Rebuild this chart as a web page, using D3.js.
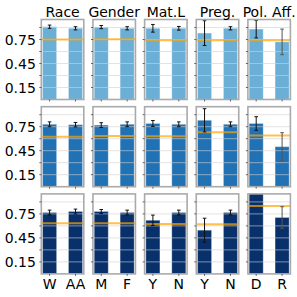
<!DOCTYPE html>
<html>
<head>
<meta charset="utf-8">
<script src="https://cdn.jsdelivr.net/npm/d3@7"></script>
<style>
  body { margin: 0; background: #fff; }
  text { font-family: "DejaVu Sans", sans-serif; fill: #000; }
</style>
</head>
<body>
<div id="chart"></div>
<script>
// chart data
const groups = ["Race", "Gender", "Mat.L", "Preg.", "Pol. Aff."];
const categories = [["W", "AA"], ["M", "F"], ["Y", "N"], ["Y", "N"], ["D", "R"]];

const row1Values = [[0.91, 0.89], [0.905, 0.89], [0.89, 0.89], [0.83, 0.89], [0.88, 0.72]];
const row1Errors = [[0.02, 0.02], [0.02, 0.02], [0.048, 0.023], [0.155, 0.02], [0.11, 0.16]];
const row1Baseline = [0.75, 0.754, 0.74, 0.74, 0.74];

const row2Values = [[0.78, 0.775], [0.77, 0.78], [0.79, 0.78], [0.83, 0.78], [0.79, 0.50]];
const row2Errors = [[0.03, 0.028], [0.03, 0.03], [0.037, 0.03], [0.145, 0.03], [0.085, 0.175]];
const row2Baseline = [0.625, 0.634, 0.63, 0.68, 0.64];

const row3Values = [[0.767, 0.78], [0.78, 0.767], [0.67, 0.767], [0.546, 0.767], [1.1, 0.705]];
const row3Errors = [[0.03, 0.03], [0.025, 0.03], [0.065, 0.03], [0.15, 0.03], [0.1, 0.135]];
const row3Baseline = [0.634, 0.634, 0.625, 0.62, 0.85];

const yTicks = [0.15, 0.3, 0.45, 0.6, 0.75, 0.9];
const yTickLabels = [0.15, 0.45, 0.75];

const rows = [
  { values: row1Values, errors: row1Errors, baseline: row1Baseline, color: "#6baed6" },
  { values: row2Values, errors: row2Errors, baseline: row2Baseline, color: "#2171b5" },
  { values: row3Values, errors: row3Errors, baseline: row3Baseline, color: "#08306b" }
];

const W = 297, H = 297;
const panelLeft = 41.3, panelStep = 51.65, panelW = 42.5;
const rowTop = 19.5, rowStep = 87.2, panelH = 80;

const svg = d3.select("#chart")
  .append("svg")
  .attr("width", W)
  .attr("height", H);

const y = d3.scaleLinear().domain([0, 1]).range([panelH, 0]);

rows.forEach((row, r) => {
  groups.forEach((g, c) => {
    const x = d3.scalePoint()
      .domain(categories[c])
      .range([0, panelW])
      .padding(0.32);
    const bw = x.step() * 0.54;

    const panel = svg.append("g")
      .attr("transform", `translate(${panelLeft + c * panelStep},${rowTop + r * rowStep})`);

    const clipId = `clip-${r}-${c}`;
    panel.append("clipPath").attr("id", clipId)
      .append("rect").attr("width", panelW).attr("height", panelH);

    const inner = panel.append("g").attr("clip-path", `url(#${clipId})`);

    // bars
    inner.selectAll("rect.bar")
      .data(categories[c])
      .enter()
      .append("rect")
      .attr("class", "bar")
      .attr("x", d => x(d) - bw / 2)
      .attr("y", (d, i) => y(row.values[c][i]))
      .attr("width", bw)
      .attr("height", (d, i) => panelH - y(row.values[c][i]))
      .attr("fill", row.color)
      .attr("stroke", "#fff")
      .attr("stroke-opacity", 0.25)
      .attr("stroke-width", 1);

    // grid on top
    inner.selectAll("line.grid")
      .data(yTicks)
      .enter()
      .append("line")
      .attr("x1", 0).attr("x2", panelW)
      .attr("y1", d => y(d)).attr("y2", d => y(d))
      .attr("stroke", "#d0d0d0")
      .attr("stroke-opacity", 0.6)
      .attr("stroke-width", 1);

    // baseline
    inner.append("line")
      .attr("x1", 0).attr("x2", panelW)
      .attr("y1", y(row.baseline[c])).attr("y2", y(row.baseline[c]))
      .attr("stroke", "#FFA500")
      .attr("stroke-opacity", 0.7)
      .attr("stroke-width", 2);

    // error bars
    categories[c].forEach((d, i) => {
      const v = row.values[c][i], e = row.errors[c][i];
      const col = (c === 4 && i === 1) ? "#555" : "#111";
      const cx = x(d);
      const eg = inner.append("g").attr("stroke", col).attr("stroke-width", 1);
      eg.append("line").attr("x1", cx).attr("x2", cx).attr("y1", y(v + e)).attr("y2", y(v - e));
      eg.append("line").attr("x1", cx - 1.8).attr("x2", cx + 1.8).attr("y1", y(v + e)).attr("y2", y(v + e));
      eg.append("line").attr("x1", cx - 1.8).attr("x2", cx + 1.8).attr("y1", y(v - e)).attr("y2", y(v - e));
    });

    // frame
    panel.append("rect")
      .attr("width", panelW).attr("height", panelH)
      .attr("fill", "none")
      .attr("stroke", "#aaa")
      .attr("stroke-width", 1.6);

    // y ticks
    panel.selectAll("line.ytick")
      .data(yTicks)
      .enter()
      .append("line")
      .attr("x1", -2).attr("x2", 0)
      .attr("y1", d => y(d)).attr("y2", d => y(d))
      .attr("stroke", "#444")
      .attr("stroke-width", 0.8);

    // x ticks
    panel.selectAll("line.xtick")
      .data(categories[c])
      .enter()
      .append("line")
      .attr("x1", d => x(d)).attr("x2", d => x(d))
      .attr("y1", panelH).attr("y2", panelH + 2)
      .attr("stroke", "#444")
      .attr("stroke-width", 0.8);

    if (c === 0) {
      panel.selectAll("text.ylab")
        .data(yTickLabels)
        .enter()
        .append("text")
        .attr("x", -5.5)
        .attr("y", d => y(d))
        .attr("dy", "0.36em")
        .attr("text-anchor", "end")
        .attr("font-size", 14)
        .text(d => d3.format(".2f")(d));
    }

    if (r === 0) {
      panel.append("text")
        .attr("x", panelW / 2)
        .attr("y", -3)
        .attr("text-anchor", "middle")
        .attr("font-size", 14)
        .text(g);
    }

    if (r === rows.length - 1) {
      panel.selectAll("text.xlab")
        .data(categories[c])
        .enter()
        .append("text")
        .attr("x", d => x(d))
        .attr("y", panelH + 15.5)
        .attr("text-anchor", "middle")
        .attr("font-size", 14)
        .text(d => d);
    }
  });
});
</script>
</body>
</html>
